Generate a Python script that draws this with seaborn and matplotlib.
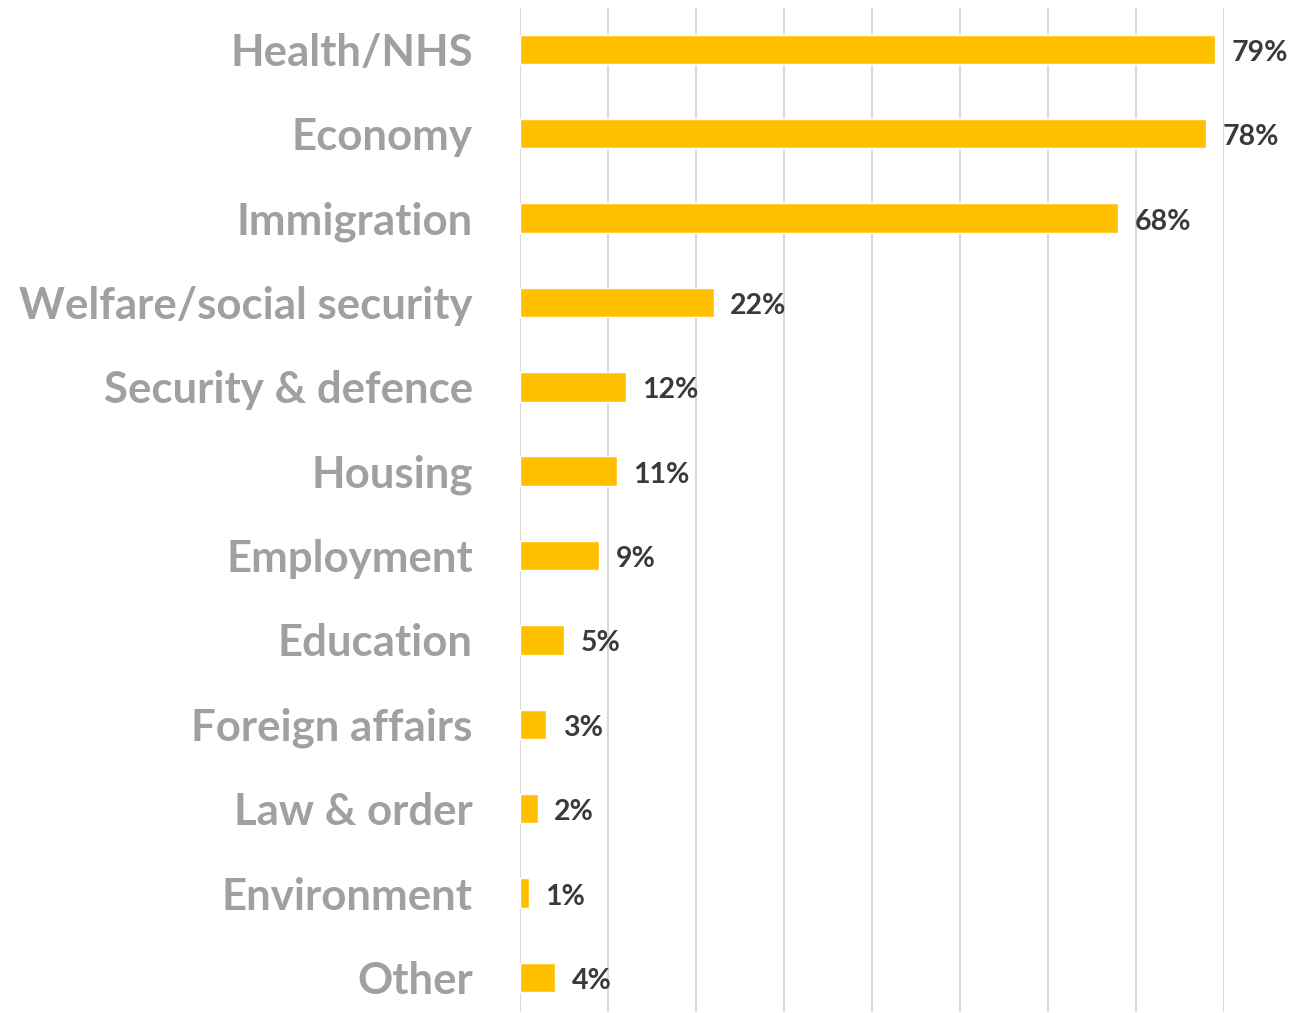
import pandas as pd
import matplotlib.pyplot as plt
import seaborn as sns

# issues and share of mentions (%)
issues = ["Health/NHS", "Economy", "Immigration", "Welfare/social security",
          "Security & defence", "Housing", "Employment", "Education",
          "Foreign affairs", "Law & order", "Environment", "Other"]
shares = [79, 78, 68, 22, 12, 11, 9, 5, 3, 2, 1, 4]

df = pd.DataFrame({"issue": issues, "share": shares})

sns.set_style("white")
plt.rcParams['font.family'] = ['Lato', 'DejaVu Sans']

fig = plt.figure(figsize=(12.93, 10.13), dpi=100)
ax = fig.add_axes([520 / 1293, 1 / 1013, 704 / 1293, 1004 / 1013])

sns.barplot(data=df, x="share", y="issue", orient="h", color="#FFC000",
            saturation=1, width=0.35, ax=ax, zorder=3)

ax.set_xlim(0, 80)
ax.set_ylim(11.41, -0.49)
ax.set_xticks(range(0, 81, 10))
ax.xaxis.grid(True, color="#d9d9d9", linewidth=1.5, zorder=0)
ax.set_axisbelow(True)
ax.set_xticklabels([])
ax.tick_params(axis="x", length=0)
ax.tick_params(axis="y", length=0, pad=34, labelsize=31.5, labelcolor="#a0a0a0")
for lab in ax.get_yticklabels():
    lab.set_fontweight("bold")
ax.set_xlabel("")
ax.set_ylabel("")
for s in ax.spines.values():
    s.set_visible(False)

# value labels
for i, v in enumerate(shares):
    ax.annotate(f"{v}%", xy=(v, i), xytext=(12, -2.5), textcoords="offset points",
                va="center", ha="left", fontsize=20.5, fontweight="bold",
                color="#3a3a3a", annotation_clip=False)

fig.savefig("out.png", dpi=100)
